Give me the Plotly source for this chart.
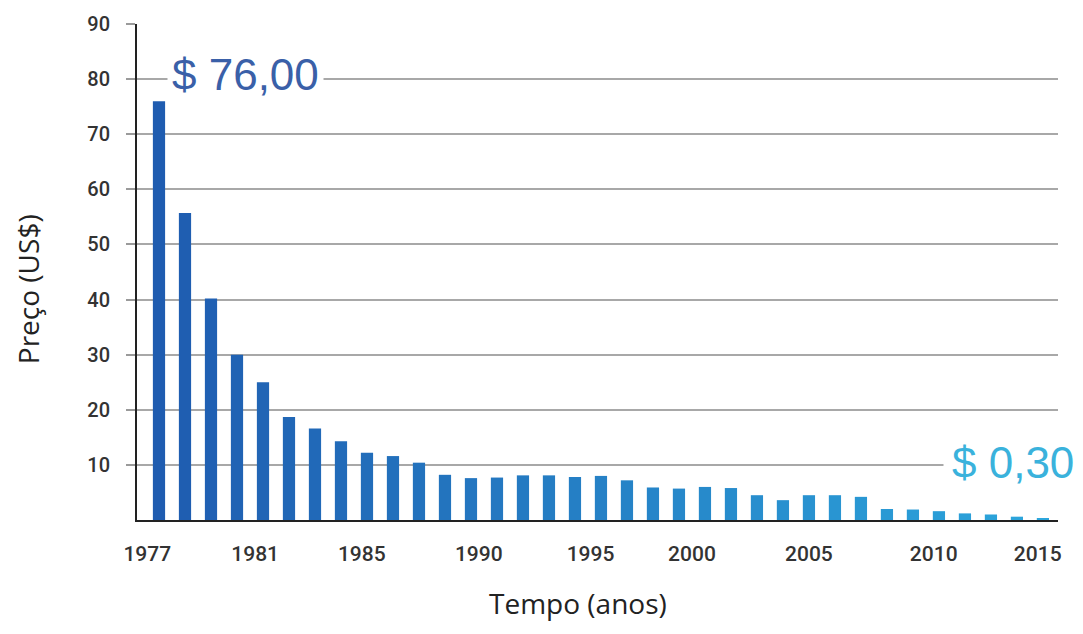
import plotly.graph_objects as go

# Price of solar cells (US$ per watt), one bar per period from 1977 to 2015
precos = [76.0, 55.7, 40.2, 30.0, 25.0, 18.7, 16.6, 14.3, 12.2, 11.6, 10.4,
          8.2, 7.6, 7.7, 8.1, 8.1, 7.8, 8.0, 7.2, 5.9, 5.7, 6.0, 5.8, 4.5,
          3.6, 4.5, 4.5, 4.2, 2.0, 1.9, 1.6, 1.2, 1.0, 0.6, 0.3]
anos_rotulos = ["1977", "1981", "1985", "1990", "1995", "2000", "2005", "2010", "2015"]
valores_y = [10, 20, 30, 40, 50, 60, 70, 80, 90]

indices = list(range(len(precos)))

# colour fades from deep blue to light cyan along the series
c0 = (0x1f, 0x5c, 0xb0)
c1 = (0x2c, 0xa6, 0xdc)
n = len(precos)
cores = []
for i in range(n):
    t = i / (n - 1)
    r, g, b = (round(a + (bb - a) * t) for a, bb in zip(c0, c1))
    cores.append(f"rgb({r},{g},{b})")

# where each year label sits along the row of bars
posicoes_rotulos = [-0.45, 3.7, 7.8, 12.3, 16.6, 20.5, 25.0, 29.8, 33.8]

fig = go.Figure(go.Bar(
    x=indices, y=precos, width=0.47,
    marker=dict(color=cores, line=dict(width=0)),
    hoverinfo="y",
))

fig.update_layout(
    width=1083, height=634,
    margin=dict(l=137, r=25, t=22, b=114),
    paper_bgcolor="white", plot_bgcolor="white",
    showlegend=False,
    xaxis=dict(
        range=[-0.846, 34.58],
        tickmode="array", tickvals=posicoes_rotulos, ticktext=anos_rotulos,
        ticks="", showgrid=False, zeroline=False,
        showline=True, linecolor="#222", linewidth=2,
        tickfont=dict(family="Roboto", size=21, color="#333", weight=500),
        ticklabelstandoff=14,
    ),
    yaxis=dict(
        range=[0, 90],
        tickmode="array", tickvals=valores_y,
        ticks="outside", ticklen=9, tickcolor="#9a9a9a", tickwidth=1.5,
        showgrid=True, gridcolor="#a8a8a8", gridwidth=1.5,
        zeroline=False,
        showline=True, linecolor="#222", linewidth=2,
        tickfont=dict(family="Roboto", size=20, color="#333", weight=500),
        ticklabelstandoff=12,
    ),
    annotations=[
        dict(text="Preço (US$)", xref="paper", yref="paper",
             x=-0.118, y=0.466, textangle=-90, showarrow=False,
             xanchor="center", yanchor="middle",
             font=dict(family="Open Sans", size=28, color="#222")),
        dict(text="Tempo (anos)", xref="paper", yref="paper",
             x=0.479, y=-0.167, showarrow=False,
             xanchor="center", yanchor="middle",
             font=dict(family="Open Sans", size=28, color="#222")),
        dict(text="$ 76,00", x=0.3, y=80.8, xref="x", yref="y",
             xanchor="left", yanchor="middle", showarrow=False,
             bgcolor="white", borderpad=4,
             font=dict(family="Liberation Sans", size=44, color="#3a60a8")),
        dict(text="$ 0,30", x=1.027, y=10.5, xref="paper", yref="y",
             xanchor="right", yanchor="middle", showarrow=False,
             bgcolor="white", borderpad=8,
             font=dict(family="Liberation Sans", size=44, color="#3ab2dc")),
    ],
)

fig.write_html("out.html")
